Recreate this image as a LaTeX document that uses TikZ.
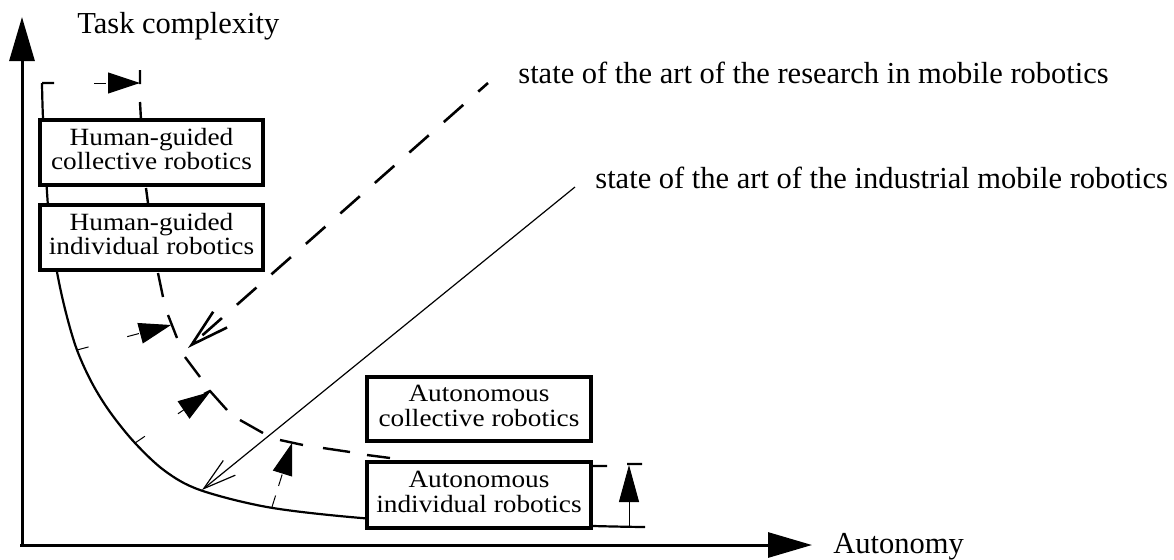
\documentclass[tikz,border=0pt]{standalone}
\usepackage{fontspec}
\usepackage{graphicx}
\setmainfont{Liberation Serif}
\usetikzlibrary{arrows.meta}
\newcommand\boxtxt[2]{\scalebox{1.1}[1]{\begin{tabular}{@{}c@{}}#1\\#2\end{tabular}}}
\begin{document}
\begin{tikzpicture}[x=0.5pt,y=-0.5pt,
  lbl/.style={font=\fontsize{15.25}{18}\selectfont, anchor=base west, inner sep=0pt},
  robox/.style={draw, line width=2pt, fill=white, inner sep=0pt, minimum width=111.7pt,
    minimum height=32.5pt, align=center, font=\fontsize{12.4}{12}\selectfont},
  axis/.style={line width=1.5pt, -{Triangle[length=22pt,width=12.5pt]}},
  curve/.style={line width=1.1pt},
  dashseg/.style={line width=1.2pt},
  shiftarrow/.style={line width=0.5pt, dash pattern=on 6pt off 20pt,
    -{Triangle[length=16pt,width=10.5pt]}},
  shortarrow/.style={line width=0.5pt, dash pattern=on 6pt off 5pt,
    -{Triangle[length=16pt,width=10pt]}},
  solidarrow/.style={line width=0.5pt, -{Triangle[length=18.5pt,width=10pt]}},
  resarrow/.style={line width=1.3pt, dash pattern=on 13pt off 10pt, dash phase=6.5pt,
    -{Straight Barb[length=19pt,width=10.5pt]}},
  indarrow/.style={line width=0.6pt, -{Straight Barb[length=16.5pt,width=9.5pt]}}
]
\useasboundingbox (0,0) rectangle (1174,559);

% axes
\coordinate (yb) at (22,546);
\coordinate (yt) at (22,17);
\coordinate (xb) at (20,545);
\coordinate (xt) at (812,545);
\draw[axis] (yb) -- (yt);
\draw[axis] (xb) -- (xt);

% labels
\node[lbl] (ylab) at (77,33) {Task complexity};
\node[lbl] (xlab) at (833,553) {Autonomy};
\node[lbl] (res) at (518,83) {state of the art of the research in mobile robotics};
\node[lbl] (ind) at (595,188) {state of the art of the industrial mobile robotics};

% solid curve
\draw[curve] (54,83) -- (42,83) plot[smooth, tension=0.55] coordinates {(42,83) (43,118) (47,192) (50,225) (57,272) (66,313) (77,350) (92,383) (110,412) (135,443) (165,471) (200,490) (267,507) (350,517) (420,521) (593,526) (645,527)};

% shifted (dashed) curve
\draw[dashseg] (140,70) -- (140,84)
  (140,102) -- (141,120)
  (146,188) -- (148,203)
  (158,273) -- (163,297)
  (168,315) -- (177,338)
  (185,357) -- (200,377)
  (204,394) -- (210,391) -- (227,410)
  (240,420) -- (263,433)
  (280,440) -- (303,445)
  (323,448) -- (350,452)
  (367,455) -- (390,458)
  (593,466) -- (607,466)
  (627,464) -- (642,464);

% shift arrows
\coordinate (s1a) at (42,83);   \coordinate (s1b) at (140,83);
\coordinate (s2a) at (77,350);  \coordinate (s2b) at (171,325);
\coordinate (s3a) at (135,443); \coordinate (s3b) at (210,392);
\coordinate (s4a) at (272,507); \coordinate (s4b) at (292,443);
\coordinate (s5a) at (629,527); \coordinate (s5b) at (629,465);
\draw[shiftarrow] (s1a) -- (s1b);
\draw[shiftarrow] (s2a) -- (s2b);
\draw[shiftarrow] (s3a) -- (s3b);
\draw[shortarrow] (s4a) -- (s4b);
\draw[solidarrow] (s5a) -- (s5b);

% state-of-the-art arrows
\coordinate (resA) at (488,83);  \coordinate (resB) at (188,348);
\coordinate (indA) at (575,187); \coordinate (indB) at (202,490);
\draw[resarrow] (resA) -- (resB);
\draw[indarrow] (indA) -- (indB);

% boxes
\node[robox] (hgc) at (151.5,152.5) {\boxtxt{Human-guided}{collective robotics}};
\node[robox] (hgi) at (151.5,237.5) {\boxtxt{Human-guided}{individual robotics}};
\node[robox, minimum width=112pt, minimum height=32pt] (ac) at (479,409) {\boxtxt{Autonomous}{collective robotics}};
\node[robox, minimum width=112pt, minimum height=33pt] (ai) at (479,495) {\boxtxt{Autonomous}{individual robotics}};
\end{tikzpicture}
\end{document}
